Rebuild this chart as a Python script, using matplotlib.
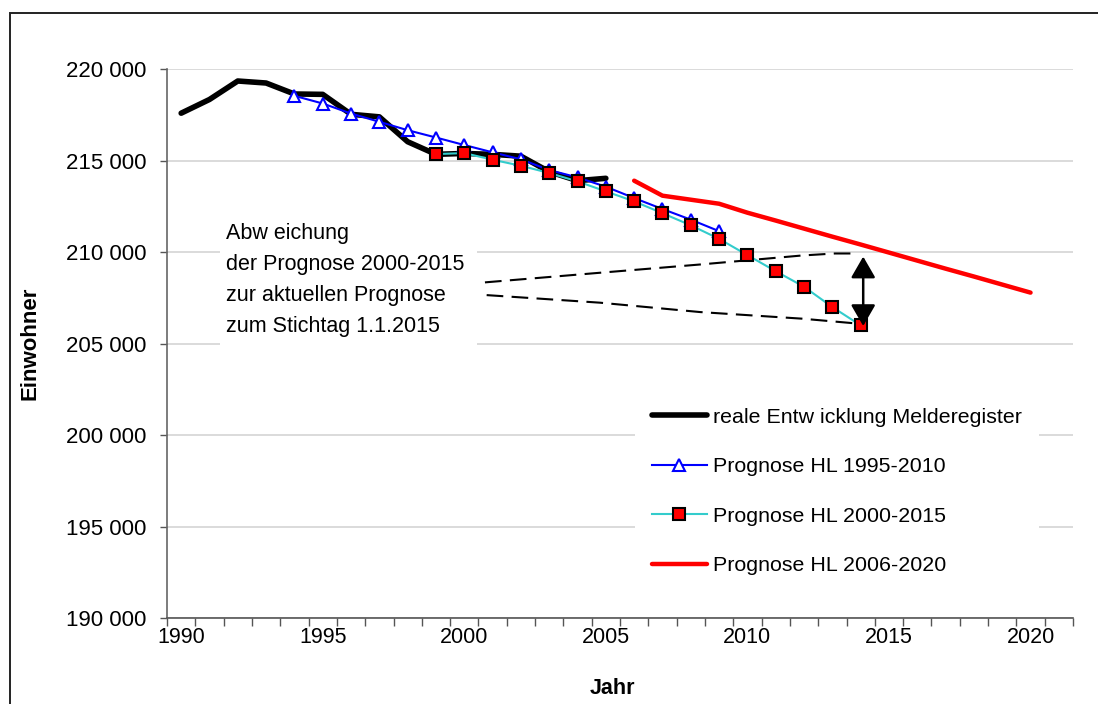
import matplotlib
matplotlib.use("Agg")
import matplotlib.pyplot as plt
from matplotlib.patches import Rectangle, FancyArrowPatch
from matplotlib.ticker import FuncFormatter, FixedLocator

# ---------------- data ----------------
years_real = list(range(1990, 2006))
real = [217600, 218350, 219360, 219250, 218650, 218630, 217540, 217400,
        216040, 215350, 215400, 215350, 215250, 214400, 213910, 214040]

years_p95 = list(range(1994, 2010))
p95 = [218550, 218130, 217580, 217130, 216670, 216270, 215860, 215460,
       215080, 214490, 214090, 213580, 212960, 212360, 211780, 211150]

years_p00 = list(range(1999, 2015))
p00 = [215365, 215420, 215055, 214727, 214330, 213870, 213326, 212780,
       212130, 211470, 210730, 209840, 208960, 208110, 207000, 206000]

years_p06 = list(range(2006, 2021))
p06 = [213910, 213090, 212870, 212650, 212160, 211730, 211290, 210850,
       210420, 209980, 209540, 209100, 208670, 208230, 207790]

labels = ["reale Entw icklung Melderegister", "Prognose HL 1995-2010",
          "Prognose HL 2000-2015", "Prognose HL 2006-2020"]

# annotation guide lines (dashed)
upper_x = [2000.73, 2004.79, 2008.33, 2011.92, 2013.09, 2013.73]
upper_y = [208350, 208876, 209328, 209819, 209930, 209930]
lower_x = [2000.79, 2004.79, 2008.33, 2011.92, 2013.80]
lower_y = [207654, 207240, 206727, 206367, 206110]
arrow_x = 2014.09
arrow_top, arrow_bottom = 209760, 205964

note = "Abw eichung\nder Prognose 2000-2015\nzur aktuellen Prognose\nzum Stichtag 1.1.2015"

xtick_years = [1990, 1995, 2000, 2005, 2010, 2015, 2020]
ytick_vals = [190000, 195000, 200000, 205000, 210000, 215000, 220000]

# ---------------- figure ----------------
plt.rcParams['font.family'] = ['Liberation Sans', 'DejaVu Sans']
fig = plt.figure(figsize=(10.98, 7.04), dpi=100)
ax = fig.add_axes([167/1098, 1-618/704, 906/1098, (618-69.3)/704])

ax.set_xlim(1989.5, 2021.5)
ax.set_ylim(190000, 220000)

# grid
ax.yaxis.set_major_locator(FixedLocator(ytick_vals))
ax.yaxis.grid(True, color='#d4d4d4', lw=1.2, zorder=0)
ax.set_axisbelow(True)
ax.yaxis.set_major_formatter(FuncFormatter(lambda v, p: f"{int(v):,}".replace(",", " ")))

ax.xaxis.set_major_locator(FixedLocator(xtick_years))
ax.xaxis.set_minor_locator(FixedLocator([y + 0.5 for y in range(1989, 2022)]))
ax.tick_params(axis='x', which='major', length=0, pad=6.5, labelsize=15.5)
ax.tick_params(axis='x', which='minor', length=6, width=1, color='#555555', direction='out')
ax.tick_params(axis='y', which='major', length=5, width=1, color='#555555', direction='out',
               pad=10, labelsize=16)

for s in ['top', 'right']:
    ax.spines[s].set_visible(False)
ax.spines['left'].set_color('#666666')
ax.spines['bottom'].set_color('#555555')
ax.spines['left'].set_linewidth(1.2)
ax.spines['bottom'].set_linewidth(1.2)

# white note box covering grid
ax.add_patch(Rectangle((1991.37, 204900), 9.08, 7150, facecolor='white',
                       edgecolor='none', zorder=1))
ax.text(1991.6, 208500, note, fontsize=15.5, ha='left', va='center',
        linespacing=1.62, zorder=2)

# series
l1, = ax.plot(years_real, real, color='black', lw=4.0, solid_capstyle='round',
              solid_joinstyle='round', zorder=3, label=labels[0])
l2, = ax.plot(years_p95, p95, color='#0000ff', lw=1.5, marker='^', ms=9,
              mfc='white', mec='#0000ff', mew=1.5, zorder=4, label=labels[1])
l3, = ax.plot(years_p00, p00, color='#33cccc', lw=1.5, marker='s', ms=8,
              mfc='#ff0000', mec='black', mew=1.5, zorder=5, label=labels[2])
l4, = ax.plot(years_p06, p06, color='#ff0000', lw=3.2, solid_capstyle='round',
              zorder=3, label=labels[3])

# dashed guide lines and arrow
ax.plot(upper_x, upper_y, color='black', lw=1.5, dashes=(8, 4), zorder=2)
ax.plot(lower_x, lower_y, color='black', lw=1.5, dashes=(8, 4), zorder=2)
arr = FancyArrowPatch((arrow_x, arrow_bottom), (arrow_x, arrow_top),
                      arrowstyle='<|-|>,head_length=13,head_width=7.5',
                      mutation_scale=1, color='black', lw=1.8,
                      shrinkA=0, shrinkB=0, zorder=6)
ax.add_patch(arr)

ax.set_ylabel("Einwohner", fontsize=16, fontweight='bold')
ax.yaxis.label.set_va('center')
ax.yaxis.set_label_coords((30-167)/906, 0.5)
ax.set_xlabel("Jahr", fontsize=15.5, fontweight='bold')
ax.xaxis.set_label_coords((612-167)/906, -(678-618)/549)

leg = ax.legend(handles=[l1, l2, l3, l4], loc='upper left',
                bbox_to_anchor=(634.6/1098, 1-390.5/704), bbox_transform=fig.transFigure,
                borderaxespad=0, borderpad=0.8, frameon=True, fancybox=False,
                edgecolor='none', facecolor='white', framealpha=1,
                fontsize=15.4, handlelength=2.57, handletextpad=0.28, labelspacing=1.43)
leg.set_zorder(7)

# outer frame
fig.patches.append(Rectangle((10/1098, -0.2), 1.5, 1-13/704+0.2,
                             transform=fig.transFigure, facecolor='none',
                             edgecolor='#222222', lw=1.4))

fig.savefig("out.png", dpi=100)
